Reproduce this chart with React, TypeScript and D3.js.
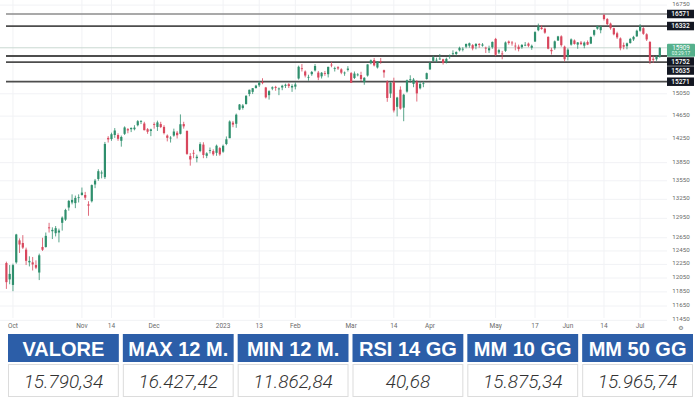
import React from "react";
import * as d3 from "d3";

// Daily candles, Sep 29 2022 -> Jul 11 2023 (futures price level)
const opens = [
  12270, 12030, 11950, 12280, 12610, 12570, 12470, 12280, 12280, 12240, 12130, 12510, 12510, 12810, 12750, 12720, 12730, 12880, 12930, 13120, 13200, 13190, 13280,
  13320, 13320, 13170, 13220, 13490, 13580, 13670, 13610, 14270, 14250, 14320, 14320, 14220, 14340, 14420, 14420, 14420, 14490, 14550, 14520, 14420, 14390,
  14510, 14460, 14510, 14460, 14310, 14270, 14310, 14360, 14340, 14510, 14390, 13960, 14015, 13925, 14045, 14155, 13965, 14055, 14045, 14015, 14095,
  14035, 14165, 14265, 14535, 14515, 14765, 14795, 14865, 15045, 15085, 15155, 15205, 15265, 15165, 15025, 15145, 15175, 15135, 15165, 15195, 15225, 15165,
  15180, 15330, 15520, 15460, 15350, 15410, 15480, 15440, 15370, 15430, 15410, 15590, 15520, 15540, 15500, 15430, 15490, 15430, 15340, 15400,
  15395, 15265, 15385, 15615, 15675, 15535, 15655, 15485, 15275, 15055, 15265, 14815, 15125, 14800, 15090, 15310, 15230, 15270, 15150, 15230, 15320, 15500, 15660,
  15670, 15700, 15690, 15630, 15740, 15800, 15790, 15860, 15890, 15930, 15950, 15960, 15940, 15980, 15950, 15910, 15860, 15920,
  16080, 15820, 15800, 15850, 16030, 16010, 15950, 15930, 15920, 15960, 15990, 15910, 16030, 16250, 16300, 16280, 16120, 15870, 15900, 16050, 16130, 15930,
  15740, 15970, 16050, 15970, 16010, 15950, 16020, 15990, 16160, 16280, 16250, 16550, 16470, 16380, 16290, 16190, 16090, 15960, 15940, 16000, 16070, 16130,
  16240, 16290, 16170, 16020, 15700, 15690, 15740,
];
const highs = [
  12290, 12240, 12260, 12710, 12640, 12690, 12500, 12370, 12360, 12310, 12410, 12650, 12730, 12880, 12810, 12830, 12790, 12980, 13100, 13240, 13330, 13310, 13330,
  13440, 13370, 13220, 13490, 13580, 13740, 13720, 14200, 14300, 14360, 14440, 14350, 14310, 14470, 14440, 14450, 14490, 14580, 14580, 14550, 14440, 14430,
  14540, 14570, 14550, 14490, 14330, 14300, 14430, 14390, 14680, 14550, 14400, 14010, 14065, 13985, 14195, 14195, 14025, 14105, 14075, 14155, 14115,
  14155, 14295, 14575, 14565, 14695, 14865, 14865, 15025, 15125, 15155, 15215, 15285, 15335, 15175, 15115, 15185, 15195, 15165, 15215, 15235, 15245, 15225,
  15260, 15570, 15600, 15480, 15400, 15470, 15600, 15470, 15450, 15470, 15550, 15640, 15550, 15560, 15520, 15460, 15560, 15450, 15460, 15430,
  15455, 15355, 15595, 15685, 15715, 15655, 15715, 15495, 15295, 15265, 15345, 14995, 15185, 15050, 15310, 15390, 15340, 15300, 15280, 15280, 15440, 15630, 15760,
  15720, 15790, 15700, 15720, 15780, 15860, 15840, 15930, 15920, 15990, 16010, 15980, 16000, 16000, 16000, 15930, 15950, 16030,
  16100, 15890, 15850, 16030, 16050, 16040, 16010, 15970, 15980, 16020, 16010, 15970, 16230, 16380, 16350, 16300, 16130, 15910, 16050, 16140, 16150, 15950,
  15900, 16090, 16070, 16020, 16040, 16030, 16050, 16130, 16260, 16340, 16340, 16572, 16490, 16400, 16300, 16220, 16110, 16010, 16010, 16100, 16140, 16260,
  16370, 16310, 16190, 16040, 15760, 15760, 15920,
];
const lows = [
  11893, 11960, 11860, 12260, 12420, 12480, 12240, 12220, 12160, 12180, 12020, 12450, 12500, 12730, 12630, 12670, 12580, 12760, 12910, 13070, 13170, 13110, 13200,
  13310, 13240, 12990, 13200, 13430, 13550, 13590, 13580, 14190, 14220, 14270, 14220, 14120, 14320, 14350, 14370, 14400, 14470, 14510, 14400, 14340, 14300,
  14430, 14390, 14440, 14330, 14210, 14190, 14290, 14260, 14330, 14430, 13980, 13800, 13925, 13855, 14025, 13925, 13925, 14005, 13965, 13965, 13965,
  14015, 14145, 14265, 14455, 14445, 14755, 14765, 14855, 15005, 15045, 15145, 15175, 15225, 14965, 14945, 15115, 15105, 15025, 15115, 15155, 15155, 15085,
  15130, 15310, 15460, 15350, 15290, 15380, 15460, 15300, 15330, 15380, 15350, 15540, 15460, 15490, 15410, 15380, 15460, 15250, 15320, 15370,
  15285, 15215, 15365, 15595, 15555, 15515, 15605, 15345, 14905, 14975, 14715, 14645, 14765, 14560, 15070, 15250, 15170, 14910, 15130, 15170, 15310, 15490, 15640,
  15630, 15680, 15590, 15610, 15700, 15770, 15760, 15840, 15840, 15900, 15910, 15860, 15880, 15910, 15930, 15810, 15810, 15890,
  15750, 15790, 15690, 15830, 15970, 15950, 15860, 15840, 15890, 15940, 15920, 15870, 16020, 16230, 16260, 16180, 15880, 15780, 15870, 16040, 15930, 15650,
  15670, 15950, 15970, 15890, 15960, 15900, 15960, 15980, 16130, 16260, 16190, 16440, 16350, 16260, 16150, 16080, 15860, 15880, 15880, 15990, 16040, 16120,
  16220, 16160, 16040, 15600, 15620, 15660, 15720,
];
const closes = [
  11990, 12110, 12239, 12700, 12547, 12501, 12303, 12302, 12249, 12202, 12385, 12468, 12679, 12795, 12771, 12797, 12761, 12961, 13082, 13225, 13241, 13273, 13283,
  13358, 13277, 13150, 13480, 13553, 13708, 13686, 14166, 14244, 14333, 14398, 14254, 14286, 14451, 14400, 14443, 14448, 14560, 14561, 14403, 14376, 14417,
  14500, 14539, 14458, 14353, 14271, 14274, 14380, 14316, 14507, 14470, 13997, 13903, 14008, 13949, 14163, 13979, 14006, 14060, 13990, 14136, 13989,
  14134, 14246, 14555, 14501, 14675, 14857, 14839, 15013, 15123, 15152, 15199, 15252, 15246, 14985, 15098, 15168, 15158, 15146, 15197, 15215, 15191, 15193,
  15220, 15549, 15516, 15385, 15360, 15452, 15563, 15348, 15437, 15420, 15547, 15574, 15522, 15517, 15438, 15440, 15515, 15250, 15422, 15405,
  15320, 15343, 15593, 15669, 15574, 15647, 15648, 15443, 14974, 15248, 14750, 14982, 14783, 15033, 15296, 15316, 15311, 15057, 15228, 15242, 15429, 15623, 15729,
  15681, 15703, 15620, 15698, 15755, 15803, 15829, 15908, 15890, 15983, 15996, 15895, 15982, 15963, 15972, 15895, 15900, 16022,
  15776, 15865, 15784, 16011, 16002, 16005, 15946, 15884, 15964, 15967, 15947, 15947, 16213, 16325, 16273, 16202, 15892, 15843, 16033, 16129, 15959, 15690,
  15873, 16071, 15983, 16012, 15980, 16009, 15970, 16117, 16251, 16330, 16320, 16470, 16370, 16290, 16170, 16110, 15900, 15930, 15995, 16080, 16120, 16240,
  16330, 16180, 16070, 15660, 15680, 15740, 15909,
];

const xTickLabels = ["Oct", "Nov", "14", "Dec", "2023", "13", "Feb", "Mar", "14", "Apr", "May", "17", "Jun", "14", "Jul"];
const xTickBars = [2, 23, 32, 45, 66, 77, 88, 105, 118, 129, 149, 161, 171, 182, 193];

const yTickValues = [16750, 15050, 14650, 14250, 13850, 13550, 13250, 12950, 12650, 12450, 12250, 12050, 11850, 11650, 11450];

const levelValues = [16571, 16332, 15752, 15635, 15271];
const lastPrice = 15909;
const lastPriceTimer = "03:29:17";

const tableHeaders = ["VALORE", "MAX 12 M.", "MIN 12 M.", "RSI 14 GG", "MM 10 GG", "MM 50 GG"];
const tableValues = ["15.790,34", "16.427,42", "11.862,84", "40,68", "15.875,34", "15.965,74"];

const UP = "#2f8f6d";
const DOWN = "#d8475d";

export default function App() {
  const W = 700;
  const H = 400;
  const n = closes.length;
  const plotRight = 667;
  const axisBottom = 318;

  const x = d3.scaleLinear().domain([0, n - 1]).range([6.4, 659.8]);
  const y = d3.scaleLog().domain([11650, 16571]).range([306, 14]);
  const bodyW = 2.2;

  // price labels on the right axis with simple collision avoidance
  type Lab = { text: string; top: number; h: number; price: boolean };
  const labs: Lab[] = levelValues.map((v) => ({ text: String(v), top: y(v) - 4.25, h: 8.5, price: false }));
  labs.push({ text: String(lastPrice), top: y(lastPrice) - 4, h: 13, price: true });
  labs.sort((a, b) => a.top - b.top);
  for (let i = 1; i < labs.length; i++) {
    const prevBottom = labs[i - 1].top + labs[i - 1].h;
    if (labs[i].top < prevBottom + 0.5) labs[i].top = prevBottom + 0.5;
  }

  const cellGap = 4;
  const tableX0 = 8;
  const tableX1 = 693;
  const cellW = (tableX1 - tableX0 - cellGap * (tableHeaders.length - 1)) / tableHeaders.length;
  const headTop = 334;
  const headH = 28;
  const valTop = 364;
  const valH = 33;

  return (
    <div style={{ position: "absolute", left: 0, top: 0, width: W, height: H, background: "#fff" }}>
      <svg width={W} height={H} viewBox={`0 0 ${W} ${H}`} style={{ display: "block" }}>
        <rect x={0} y={0} width={W} height={H} fill="#fff" />
        {/* grid */}
        {xTickBars.map((b, i) => (
          <line key={"vg" + i} x1={x(b)} x2={x(b)} y1={0} y2={axisBottom} stroke="#f1f2f5" strokeWidth={1} />
        ))}
        {yTickValues.map((v, i) => (
          <line key={"hg" + i} x1={0} x2={plotRight} y1={y(v)} y2={y(v)} stroke="#f1f2f5" strokeWidth={1} />
        ))}
        {/* last price line */}
        <line x1={0} x2={plotRight} y1={y(lastPrice)} y2={y(lastPrice)} stroke="#c9d9d1" strokeWidth={1} />
        {/* horizontal levels */}
        {levelValues.map((v, i) => (
          <line
            key={"lv" + i}
            x1={6}
            x2={plotRight}
            y1={y(v)}
            y2={y(v)}
            stroke={i === 0 ? "#8c8c8c" : "#4d4d4d"}
            strokeWidth={i === 0 ? 1.5 : 1.8}
          />
        ))}
        {/* candles */}
        {closes.map((c, i) => {
          const o = opens[i];
          const up = c >= o;
          const col = up ? UP : DOWN;
          const yTop = y(Math.max(o, c));
          const yBot = y(Math.min(o, c));
          const cx = x(i);
          return (
            <g key={"c" + i}>
              <line x1={cx} x2={cx} y1={y(highs[i])} y2={y(lows[i])} stroke={col} strokeWidth={0.8} />
              <rect x={cx - bodyW / 2} y={yTop} width={bodyW} height={Math.max(0.8, yBot - yTop)} fill={col} />
            </g>
          );
        })}
        {/* right axis tick labels */}
        {yTickValues.map((v, i) => (
          <text
            key={"yt" + i}
            x={681}
            y={y(v) - 1}
            textAnchor="middle"
            dominantBaseline="central"
            fontFamily="Roboto, 'Liberation Sans', sans-serif"
            fontSize={6.2}
            fill="#6a6a6a"
          >
            {v}
          </text>
        ))}
        {/* level / price labels */}
        {labs.map((l, i) =>
          l.price ? (
            <g key={"lb" + i}>
              <rect x={667} y={l.top} width={28} height={l.h} fill="#55b08c" rx={1} />
              <text x={681} y={l.top + 4} textAnchor="middle" dominantBaseline="central" fontFamily="Roboto, sans-serif" fontSize={6.3} fill="#fff">
                {l.text}
              </text>
              <text x={681} y={l.top + 10} textAnchor="middle" dominantBaseline="central" fontFamily="Roboto, sans-serif" fontSize={4.8} fill="#eafff5">
                {lastPriceTimer}
              </text>
            </g>
          ) : (
            <g key={"lb" + i}>
              <rect x={667} y={l.top} width={27} height={l.h} fill="#131722" />
              <text x={680.5} y={l.top + l.h / 2} textAnchor="middle" dominantBaseline="central" fontFamily="Roboto, sans-serif" fontSize={6.5} fontWeight={500} fill="#fff">
                {l.text}
              </text>
            </g>
          )
        )}
        {/* x axis labels */}
        {xTickLabels.map((t, i) => (
          <text
            key={"xt" + i}
            x={x(xTickBars[i])}
            y={325.5}
            textAnchor="middle"
            dominantBaseline="central"
            fontFamily="Roboto, 'Liberation Sans', sans-serif"
            fontSize={6.5}
            fill="#6a6a6a"
          >
            {t}
          </text>
        ))}
        <text x={681} y={327.5} textAnchor="middle" dominantBaseline="central" fontFamily="'DejaVu Sans', sans-serif" fontSize={6} fill="#777">
          ⚙
        </text>
        {/* table */}
        {tableHeaders.map((h, i) => {
          const cx0 = tableX0 + i * (cellW + cellGap);
          return (
            <g key={"th" + i}>
              <rect x={cx0} y={headTop} width={cellW} height={headH} fill="#2c5ea8" />
              <text
                x={cx0 + cellW / 2}
                y={headTop + headH / 2 + 1}
                textAnchor="middle"
                dominantBaseline="central"
                fontFamily="'Liberation Sans', Arial, sans-serif"
                fontWeight={700}
                fontSize={20}
                fill="#fff"
              >
                {h}
              </text>
              <rect x={cx0 + 0.5} y={valTop + 0.5} width={cellW - 1} height={valH - 1} fill="#fff" stroke="#dcdcdc" strokeWidth={1} />
              <text
                x={cx0 + cellW / 2}
                y={valTop + valH / 2 + 1}
                textAnchor="middle"
                dominantBaseline="central"
                fontFamily="Roboto, 'Liberation Sans', sans-serif"
                fontStyle="italic"
                fontWeight={300}
                fontSize={19}
                fill="#333"
              >
                {tableValues[i]}
              </text>
            </g>
          );
        })}
      </svg>
    </div>
  );
}
